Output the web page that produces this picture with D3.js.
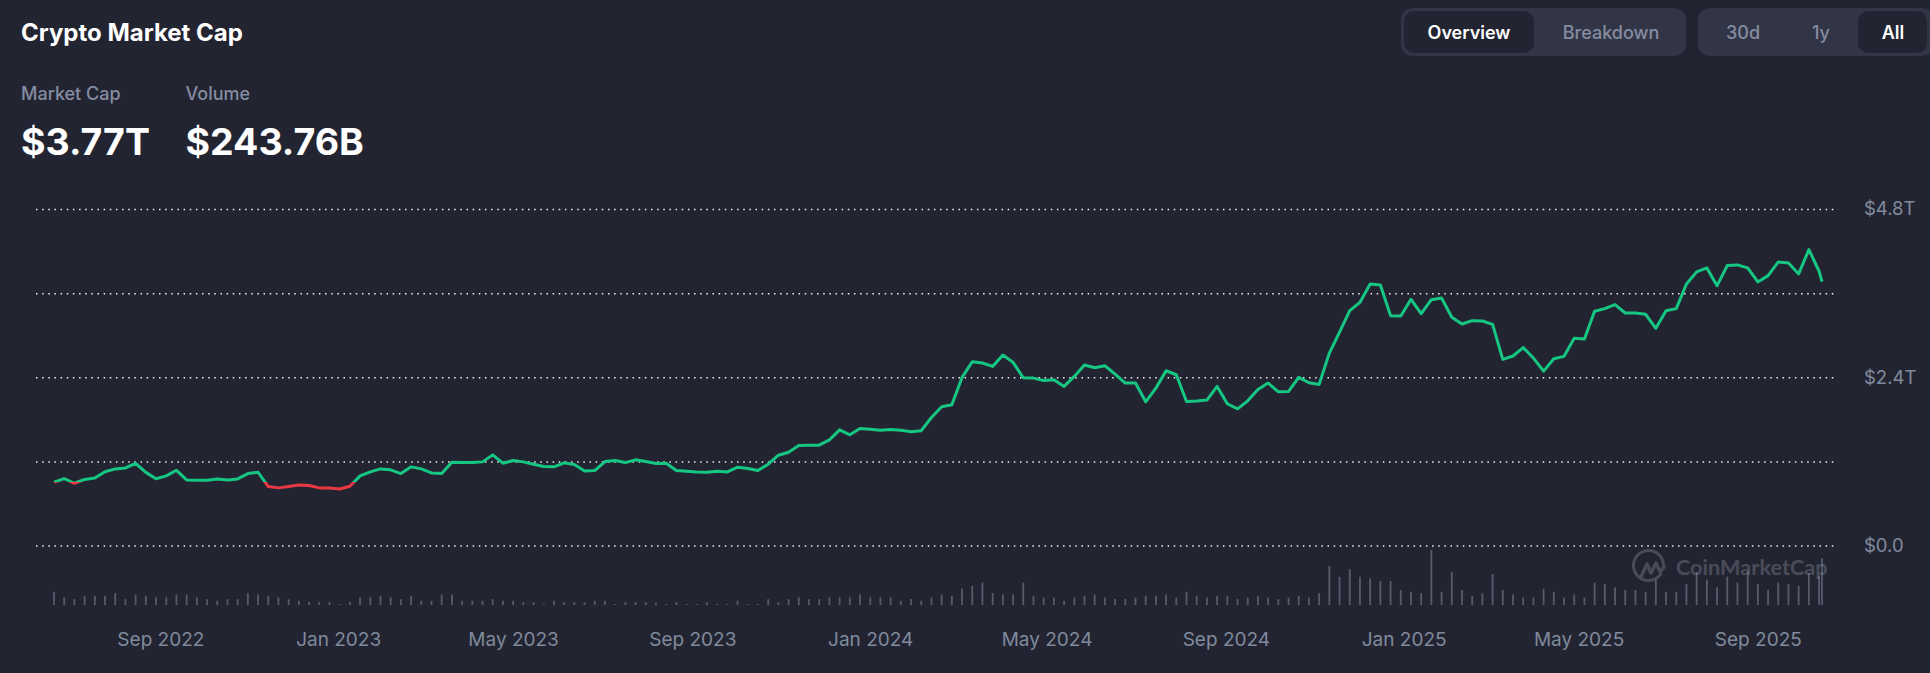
<!DOCTYPE html>
<html>
<head>
<meta charset="UTF-8">
<title>Crypto Market Cap</title>
<script src="https://cdn.jsdelivr.net/npm/d3@7/dist/d3.min.js"></script>
<style type="text/css">
html, body {
    margin: 0;
    padding: 0;
    background: #222531;
    overflow: hidden;
}
svg {
    display: block;
    font-family: Inter, sans-serif;
}
</style>
</head>
<body>
<div id="chart"></div>
<script>

// weekly readings, trillions of dollars (last one is the latest partial week)
var marketCap = [
    0.91,0.96,0.895,0.95,0.97,1.06,1.10,1.114,1.18,1.05,0.96,1.0,1.08,0.943,0.938,0.938,0.957,0.943,0.957,1.033,
    1.052,0.848,0.829,0.848,0.871,0.862,0.829,0.829,0.814,0.852,1.0,1.057,1.10,1.086,1.033,1.129,1.10,1.043,1.033,1.195,
    1.19,1.19,1.2,1.3,1.181,1.219,1.2,1.167,1.133,1.129,1.186,1.162,1.071,1.076,1.205,1.219,1.19,1.229,1.205,1.176,
    1.181,1.076,1.067,1.057,1.052,1.067,1.057,1.124,1.105,1.076,1.167,1.295,1.338,1.433,1.438,1.438,1.514,1.657,1.586,1.676,
    1.667,1.652,1.662,1.65,1.63,1.645,1.833,1.986,2.014,2.405,2.629,2.61,2.562,2.724,2.619,2.4,2.395,2.362,2.371,2.276,
    2.419,2.581,2.543,2.571,2.452,2.324,2.324,2.057,2.252,2.5,2.443,2.062,2.067,2.081,2.276,2.029,1.957,2.071,2.233,2.324,
    2.2,2.205,2.405,2.329,2.305,2.752,3.05,3.357,3.476,3.738,3.724,3.286,3.281,3.519,3.314,3.514,3.538,3.262,3.167,3.214,
    3.21,3.162,2.662,2.71,2.829,2.681,2.495,2.671,2.705,2.962,2.952,3.348,3.386,3.443,3.324,3.324,3.305,3.105,3.357,3.386,
    3.738,3.91,3.967,3.714,4.0,4.01,3.967,3.767,3.857,4.052,4.038,3.881,4.229,3.919,3.77
];

// volume, billions of dollars
var volume = [
    69,40,30,47,47,47,62,30,54,47,40,40,54,54,40,30,22,30,30,62,
    54,47,40,30,22,16,16,16,5,16,40,40,47,40,30,47,22,22,54,54,
    22,22,22,30,22,22,14,14,5,22,14,14,14,22,22,5,14,14,14,14,
    5,14,5,5,14,5,5,22,5,5,30,14,30,40,30,30,40,40,40,54,
    40,40,40,22,31,22,38,54,47,85,100,116,62,54,54,116,47,38,38,22,
    38,47,54,38,31,31,38,47,47,54,38,69,47,38,47,47,31,38,47,38,
    31,38,47,38,61,203,147,186,147,139,125,125,78,69,61,286,69,172,78,47,
    61,161,78,54,38,38,85,69,38,54,38,116,109,92,78,78,69,132,69,69,
    109,172,132,92,147,116,178,109,78,116,109,100,166,150,243.76
];

var firstWeek = new Date(2022, 5, 19),
    lastDay = new Date(2025, 9, 14);

var gridValues = [0, 1.2, 2.4, 3.6, 4.8],
    yLabelValues = [0, 2.4, 4.8],
    yLabels = ["$0.0", "$2.4T", "$4.8T"];

var monthTicks = [
    new Date(2022, 8, 1), new Date(2023, 0, 1), new Date(2023, 4, 1), new Date(2023, 8, 1),
    new Date(2024, 0, 1), new Date(2024, 4, 1), new Date(2024, 8, 1), new Date(2025, 0, 1),
    new Date(2025, 4, 1), new Date(2025, 8, 1)
];

// line turns red under this value
var baseline = 0.914;

var width = 1930, height = 673;

var dates = d3.timeDay.range(firstWeek, lastDay, 7);
dates.push(lastDay);

var x = d3.scaleTime().domain([firstWeek, lastDay]).range([54, 1822]),
    y = d3.scaleLinear().domain([0, 4.8]).range([546, 209.5]),
    yVol = d3.scaleLinear().domain([0, 286]).range([605, 550]);

var svg = d3.select("#chart").append("svg")
    .attr("width", width)
    .attr("height", height);

// header
function label(txt, px, py, size, weight, color) {
    return svg.append("text")
        .attr("x", px).attr("y", py)
        .attr("font-size", size)
        .attr("font-weight", weight)
        .attr("fill", color)
        .text(txt);
}

label("Crypto Market Cap", 21, 41, 24, 700, "#fff");
label("Market Cap", 21, 100, 18, 500, "#858ca2");
label("Volume", 185.5, 100, 18, 500, "#858ca2");
label("$3.77T", 21, 155, 37.5, 700, "#fff");
label("$243.76B", 185.5, 155, 37.5, 700, "#fff");

// toggle buttons
function pill(x0, x1, y0, y1, r, fill, stroke) {
    svg.append("rect")
        .attr("x", x0).attr("y", y0)
        .attr("width", x1 - x0).attr("height", y1 - y0)
        .attr("rx", r)
        .attr("fill", fill)
        .attr("stroke", stroke || "none");
}

function btnText(txt, cx, on) {
    label(txt, cx, 39, 18, on ? 600 : 500, on ? "#fff" : "#858ca2").attr("text-anchor", "middle");
}

pill(1401, 1686, 8, 56, 12, "#323546");
pill(1404, 1534, 11, 53, 10, "#222531");
btnText("Overview", 1469, true);
btnText("Breakdown", 1611, false);

pill(1698, 1934, 8, 56, 12, "#323546");
pill(1858, 1927, 11, 53, 10, "#222531");
btnText("30d", 1743, false);
btnText("1y", 1821, false);
btnText("All", 1893, true);

// grid
svg.append("g").selectAll("line")
    .data(gridValues).enter()
    .append("line")
    .attr("x1", 36).attr("x2", 1838)
    .attr("y1", function(d) { return y(d); })
    .attr("y2", function(d) { return y(d); })
    .attr("stroke", "#f0f1f5")
    .attr("stroke-width", 1.5)
    .attr("stroke-dasharray", "1.5 4.65");

// y labels
var yAxis = d3.axisRight(y)
    .tickValues(yLabelValues)
    .tickSize(0)
    .tickPadding(0)
    .tickFormat(function(d, i) { return yLabels[i]; });

var yG = svg.append("g").attr("transform", "translate(1864,-0.5)").call(yAxis);
yG.select(".domain").remove();
yG.selectAll("text")
    .attr("font-family", "Inter, sans-serif")
    .attr("font-size", 18.5)
    .attr("fill", "#808a9d");

// x labels
var xAxis = d3.axisBottom(x)
    .tickValues(monthTicks)
    .tickSize(0)
    .tickPadding(0)
    .tickFormat(d3.timeFormat("%b %Y"));

var xG = svg.append("g").attr("transform", "translate(-1.5,632)").call(xAxis);
xG.select(".domain").remove();
xG.selectAll("text")
    .attr("font-family", "Inter, sans-serif")
    .attr("font-size", 19)
    .attr("fill", "#808a9d");

// volume bars
svg.append("g").selectAll("rect")
    .data(volume).enter()
    .append("rect")
    .attr("x", function(d, i) { return x(dates[i]) - 0.9; })
    .attr("y", function(d) { return yVol(d); })
    .attr("width", 1.8)
    .attr("height", function(d) { return yVol(0) - yVol(d); })
    .attr("fill", "#a6b0c3")
    .attr("opacity", 0.4);

// watermark
var mark = svg.append("g").attr("opacity", 0.24);
mark.append("path")
    .attr("d", d3.arc()({ innerRadius: 13.5, outerRadius: 16.5, startAngle: 2.1, endAngle: 6.283 + 1.75 }))
    .attr("transform", "translate(1648.5,565.5)")
    .attr("fill", "#c3cada");
mark.append("path")
    .attr("d", "M1640 579 L1647 564 L1651 573 L1656 563 L1660 572 L1665 566")
    .attr("fill", "none")
    .attr("stroke", "#c3cada")
    .attr("stroke-width", 3.4)
    .attr("stroke-linejoin", "round");
mark.append("text")
    .attr("x", 1676).attr("y", 575)
    .attr("font-family", "Lato, sans-serif")
    .attr("font-size", 21.7)
    .attr("font-weight", 700)
    .attr("fill", "#c3cada")
    .text("CoinMarketCap");

// market cap line, green above the baseline and red below it
var line = d3.line()
    .x(function(d, i) { return x(dates[i]); })
    .y(function(d) { return y(d); });

var defs = svg.append("defs");
defs.append("clipPath").attr("id", "above").append("rect")
    .attr("x", 0).attr("y", 0)
    .attr("width", width).attr("height", y(baseline));
defs.append("clipPath").attr("id", "below").append("rect")
    .attr("x", 0).attr("y", y(baseline))
    .attr("width", width).attr("height", height - y(baseline));

[["above", "#16c784"], ["below", "#ea3943"]].forEach(function(s) {
    svg.append("path")
        .datum(marketCap)
        .attr("d", line)
        .attr("clip-path", "url(#" + s[0] + ")")
        .attr("fill", "none")
        .attr("stroke", s[1])
        .attr("stroke-width", 3)
        .attr("stroke-linejoin", "round");
});

</script>
</body>
</html>
